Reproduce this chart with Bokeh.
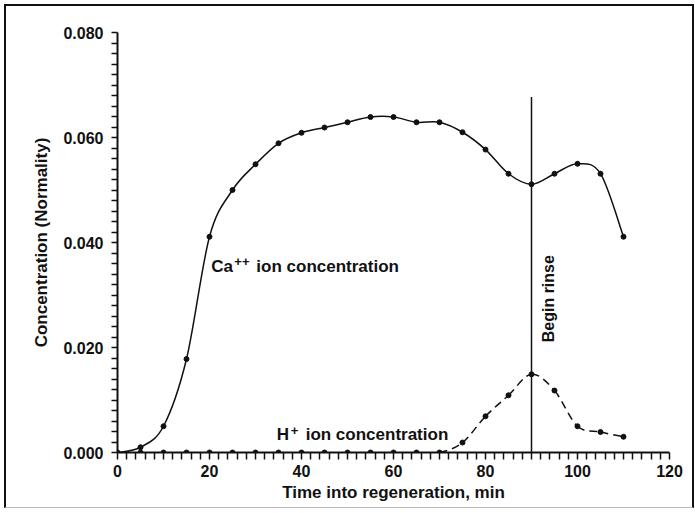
import numpy as np
from bokeh.plotting import figure
from bokeh.models import Range1d, FixedTicker, CustomJSTickFormatter, ColumnDataSource
from bokeh.core.properties import value
from bokeh.embed import file_html
from bokeh.resources import INLINE

# ---- data ----
time_min = [0, 5, 10, 15, 20, 25, 30, 35, 40, 45, 50, 55, 60, 65, 70, 75, 80, 85, 90, 95, 100, 105, 110]
ca_conc = [0.0, 0.001, 0.005, 0.0178, 0.0411, 0.050, 0.0549, 0.0589, 0.0609, 0.0619, 0.0629, 0.0639,
           0.0639, 0.0629, 0.0629, 0.0610, 0.0577, 0.0531, 0.0511, 0.0531, 0.0550, 0.0531, 0.0411]
h_conc = [0.0, 0.0, 0.0, 0.0, 0.0, 0.0, 0.0, 0.0, 0.0, 0.0, 0.0, 0.0,
          0.0, 0.0, 0.0, 0.0019, 0.0069, 0.0109, 0.0149, 0.0118, 0.0050, 0.0039, 0.0030]
rinse_time = 90
rinse_top = 0.0677
x_label_step = 20
y_label_step = 0.02
x_all_ticks = list(range(0, 121, 2))
y_all_ticks = [round(i * 0.002, 4) for i in range(41)]

FONT = "Liberation Sans"


def catmull_bezier(xs, ys, start=0):
    xs = np.asarray(xs, float)
    ys = np.asarray(ys, float)
    n = len(xs)
    out = dict(x0=[], y0=[], x1=[], y1=[], cx0=[], cy0=[], cx1=[], cy1=[])
    for i in range(start, n - 1):
        im1 = max(i - 1, 0)
        ip2 = min(i + 2, n - 1)
        out["x0"].append(xs[i]); out["y0"].append(ys[i])
        out["x1"].append(xs[i + 1]); out["y1"].append(ys[i + 1])
        out["cx0"].append(xs[i] + (xs[i + 1] - xs[im1]) / 6.0)
        out["cy0"].append(ys[i] + (ys[i + 1] - ys[im1]) / 6.0)
        out["cx1"].append(xs[i + 1] - (xs[ip2] - xs[i]) / 6.0)
        out["cy1"].append(ys[i + 1] - (ys[ip2] - ys[i]) / 6.0)
    return ColumnDataSource(out)


W, H = 690, 504
p = figure(width=W, height=H, output_backend="svg", toolbar_location=None,
           x_range=Range1d(0, 120), y_range=Range1d(0, 0.08),
           min_border_left=111, min_border_right=27, min_border_top=26, min_border_bottom=58)
p.margin = (4, 0, 0, 4)
p.styles = {"border-top": "2px solid #111", "border-left": "2px solid #111",
            "border-bottom": "1px solid #bbb", "border-right": "2px solid #111"}
p.outline_line_color = None
p.grid.visible = False
p.background_fill_color = "white"
p.border_fill_color = "white"

xax = p.xaxis[0]
yax = p.yaxis[0]
# every 2 min / 0.002 gets a tick; only multiples of the label step get a label
xax.ticker = FixedTicker(ticks=x_all_ticks, minor_ticks=[])
yax.ticker = FixedTicker(ticks=y_all_ticks, minor_ticks=[])
xax.formatter = CustomJSTickFormatter(args=dict(step=x_label_step), code="""
    const r = tick / step;
    return Math.abs(r - Math.round(r)) < 1e-6 ? Math.round(tick).toString() : "";
""")
yax.formatter = CustomJSTickFormatter(args=dict(step=y_label_step), code="""
    const r = tick / step;
    return Math.abs(r - Math.round(r)) < 1e-6 ? tick.toFixed(3) : "";
""")
for ax in (xax, yax):
    ax.axis_line_width = 2
    ax.axis_line_color = "#111"
    ax.major_tick_line_width = 1.5
    ax.major_tick_line_color = "#111"
    ax.minor_tick_line_color = None
    ax.major_tick_in = 0
    ax.major_label_text_font = FONT
    ax.major_label_text_font_style = "bold"
    ax.major_label_text_font_size = "16px"
    ax.major_label_text_color = "#111"
    ax.axis_label_text_font = FONT
    ax.axis_label_text_font_style = "bold"
    ax.axis_label_text_font_size = "17px"
    ax.axis_label_text_color = "#111"
xax.major_tick_out = 7
yax.major_tick_out = 6
xax.major_label_standoff = 5
yax.major_label_standoff = 8
xax.axis_label = "Time into regeneration, min"
yax.axis_label = "Concentration (Normality)"
xax.axis_label_standoff = 3
yax.axis_label_standoff = 9

# Ca++ curve
p.bezier(x0="x0", y0="y0", x1="x1", y1="y1", cx0="cx0", cy0="cy0", cx1="cx1", cy1="cy1",
         source=catmull_bezier(time_min, ca_conc), line_color="#111", line_width=1.5)
# H+ curve (dashed, visible part after 70 min)
start_idx = time_min.index(70)
p.bezier(x0="x0", y0="y0", x1="x1", y1="y1", cx0="cx0", cy0="cy0", cx1="cx1", cy1="cy1",
         source=catmull_bezier(time_min, h_conc, start=start_idx), line_color="#111",
         line_width=1.5, line_dash="8 5")

p.scatter(time_min[1:], ca_conc[1:], size=5, color="#111")
p.scatter(time_min, h_conc, size=5, color="#111")

# Begin rinse line
p.segment(x0=[rinse_time], y0=[0], x1=[rinse_time], y1=[rinse_top], line_color="#111", line_width=1.5)

txt = dict(text_font=value(FONT), text_font_style="bold", text_color="#111", text_baseline="alphabetic")
p.text(x=[93.6], y=[0.0210], text=["Begin rinse"], angle=np.pi / 2, text_font_size="16px", **txt)

# Ca++ label
p.text(x=[20.4], y=[0.0354], text=["Ca"], text_font_size="17px", **txt)
p.text(x=[20.4], y=[0.0354], text=["++"], text_font_size="13px", x_offset=23, y_offset=-5, **txt)
p.text(x=[20.4], y=[0.0354], text=["ion concentration"], text_font_size="17px", x_offset=45, **txt)

# H+ label
p.text(x=[34.6], y=[0.0034], text=["H"], text_font_size="17px", **txt)
p.text(x=[34.6], y=[0.0034], text=["+"], text_font_size="13px", x_offset=14, y_offset=-4, **txt)
p.text(x=[34.6], y=[0.0034], text=["ion concentration"], text_font_size="17px", x_offset=29, **txt)

open("out.html", "w").write(file_html(p, INLINE))
